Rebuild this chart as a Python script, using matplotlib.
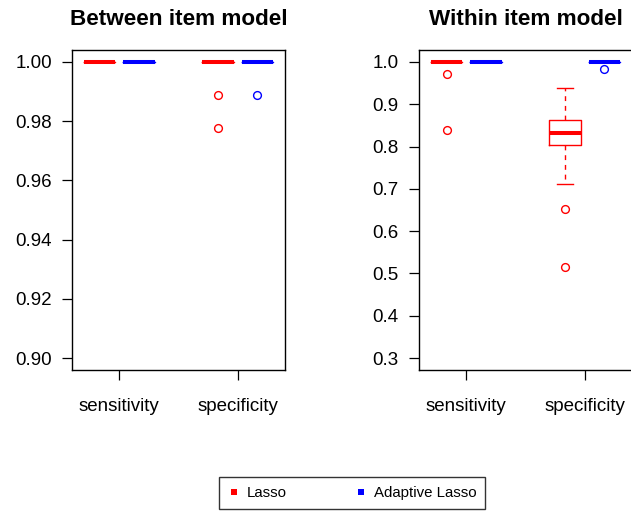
import matplotlib
matplotlib.use("Agg")
import matplotlib.pyplot as plt
from matplotlib.lines import Line2D

plt.rcParams['font.family'] = ['Liberation Sans', 'DejaVu Sans']

# group labels, method names and their colours
categories = ["sensitivity", "specificity"]
methods = ["Lasso", "Adaptive Lasso"]
method_colors = ["#FF0000", "#0000FF"]

# box summaries per model: (median, q1, q3, lower whisker, upper whisker, outliers)
# order within each method: sensitivity, specificity
between_lasso = [
    (1.0, 1.0, 1.0, 1.0, 1.0, []),
    (1.0, 1.0, 1.0, 1.0, 1.0, [0.9889, 0.9778]),
]
between_adaptive = [
    (1.0, 1.0, 1.0, 1.0, 1.0, []),
    (1.0, 1.0, 1.0, 1.0, 1.0, [0.9889]),
]
within_lasso = [
    (1.0, 1.0, 1.0, 1.0, 1.0, [0.971, 0.840]),
    (0.833, 0.803, 0.863, 0.711, 0.939, [0.652, 0.515]),
]
within_adaptive = [
    (1.0, 1.0, 1.0, 1.0, 1.0, []),
    (1.0, 1.0, 1.0, 1.0, 1.0, [0.984]),
]

between_ticks = [0.90, 0.92, 0.94, 0.96, 0.98, 1.00]
within_ticks = [0.3, 0.4, 0.5, 0.6, 0.7, 0.8, 0.9, 1.0]

TICK_FS = 13.5
TITLE_FS = 16.2
LEGEND_FS = 10.8


def to_stats(rows):
    return [dict(med=m, q1=a, q3=b, whislo=lo, whishi=hi, fliers=f)
            for m, a, b, lo, hi, f in rows]


def draw_boxes(ax, rows, positions, color):
    ax.bxp(to_stats(rows), positions=positions, widths=0.8, capwidths=0.4,
           manage_ticks=False,
           boxprops=dict(color=color, linewidth=1.0),
           whiskerprops=dict(color=color, linewidth=1.0, linestyle=(0, (3.5, 3.5))),
           capprops=dict(color=color, linewidth=1.0),
           medianprops=dict(color=color, linewidth=2.9, solid_capstyle='butt'),
           flierprops=dict(marker='o', markerfacecolor='none', markeredgecolor=color,
                           markersize=5.6, markeredgewidth=1.0))


def panel(ax, lasso, adaptive, title, ylim, yticks, fmt):
    draw_boxes(ax, lasso, [1, 4], method_colors[0])
    draw_boxes(ax, adaptive, [2, 5], method_colors[1])
    ax.set_xlim(0.3, 5.7)
    ax.set_ylim(*ylim)
    ax.set_xticks([1.5, 4.5])
    ax.set_xticklabels(categories)
    ax.set_yticks(yticks)
    ax.set_yticklabels([fmt.format(v) for v in yticks])
    ax.tick_params(axis='both', direction='out', length=7.5, width=0.9,
                   labelsize=TICK_FS, colors='black')
    ax.tick_params(axis='y', pad=7)
    ax.tick_params(axis='x', pad=12.5)
    for s in ax.spines.values():
        s.set_linewidth(1.0)
        s.set_color('black')
    ax.set_title(title, fontsize=TITLE_FS, fontweight='bold', pad=18)


fig = plt.figure(figsize=(6.31, 5.13), dpi=100)
ax1 = fig.add_axes([72 / 631, 143 / 513, 213 / 631, 320 / 513])
ax2 = fig.add_axes([419 / 631, 143 / 513, 213 / 631, 320 / 513])

panel(ax1, between_lasso, between_adaptive, "Between item model",
      (0.896, 1.004), between_ticks, "{:.2f}")
panel(ax2, within_lasso, within_adaptive, "Within item model",
      (0.272, 1.028), within_ticks, "{:.1f}")

handles = [Line2D([], [], marker='s', linestyle='none', color=c,
                  markersize=5.0, markeredgewidth=0) for c in method_colors]
leg = fig.legend(handles, methods, loc='center', ncol=2,
                 bbox_to_anchor=(352 / 631, 1 - 493 / 513),
                 fontsize=LEGEND_FS, frameon=True, fancybox=False,
                 handlelength=0.8, handletextpad=0.45, columnspacing=4.55,
                 borderpad=0.62, edgecolor='black')
leg.get_frame().set_linewidth(1.0)

fig.savefig("out.png", dpi=100)
